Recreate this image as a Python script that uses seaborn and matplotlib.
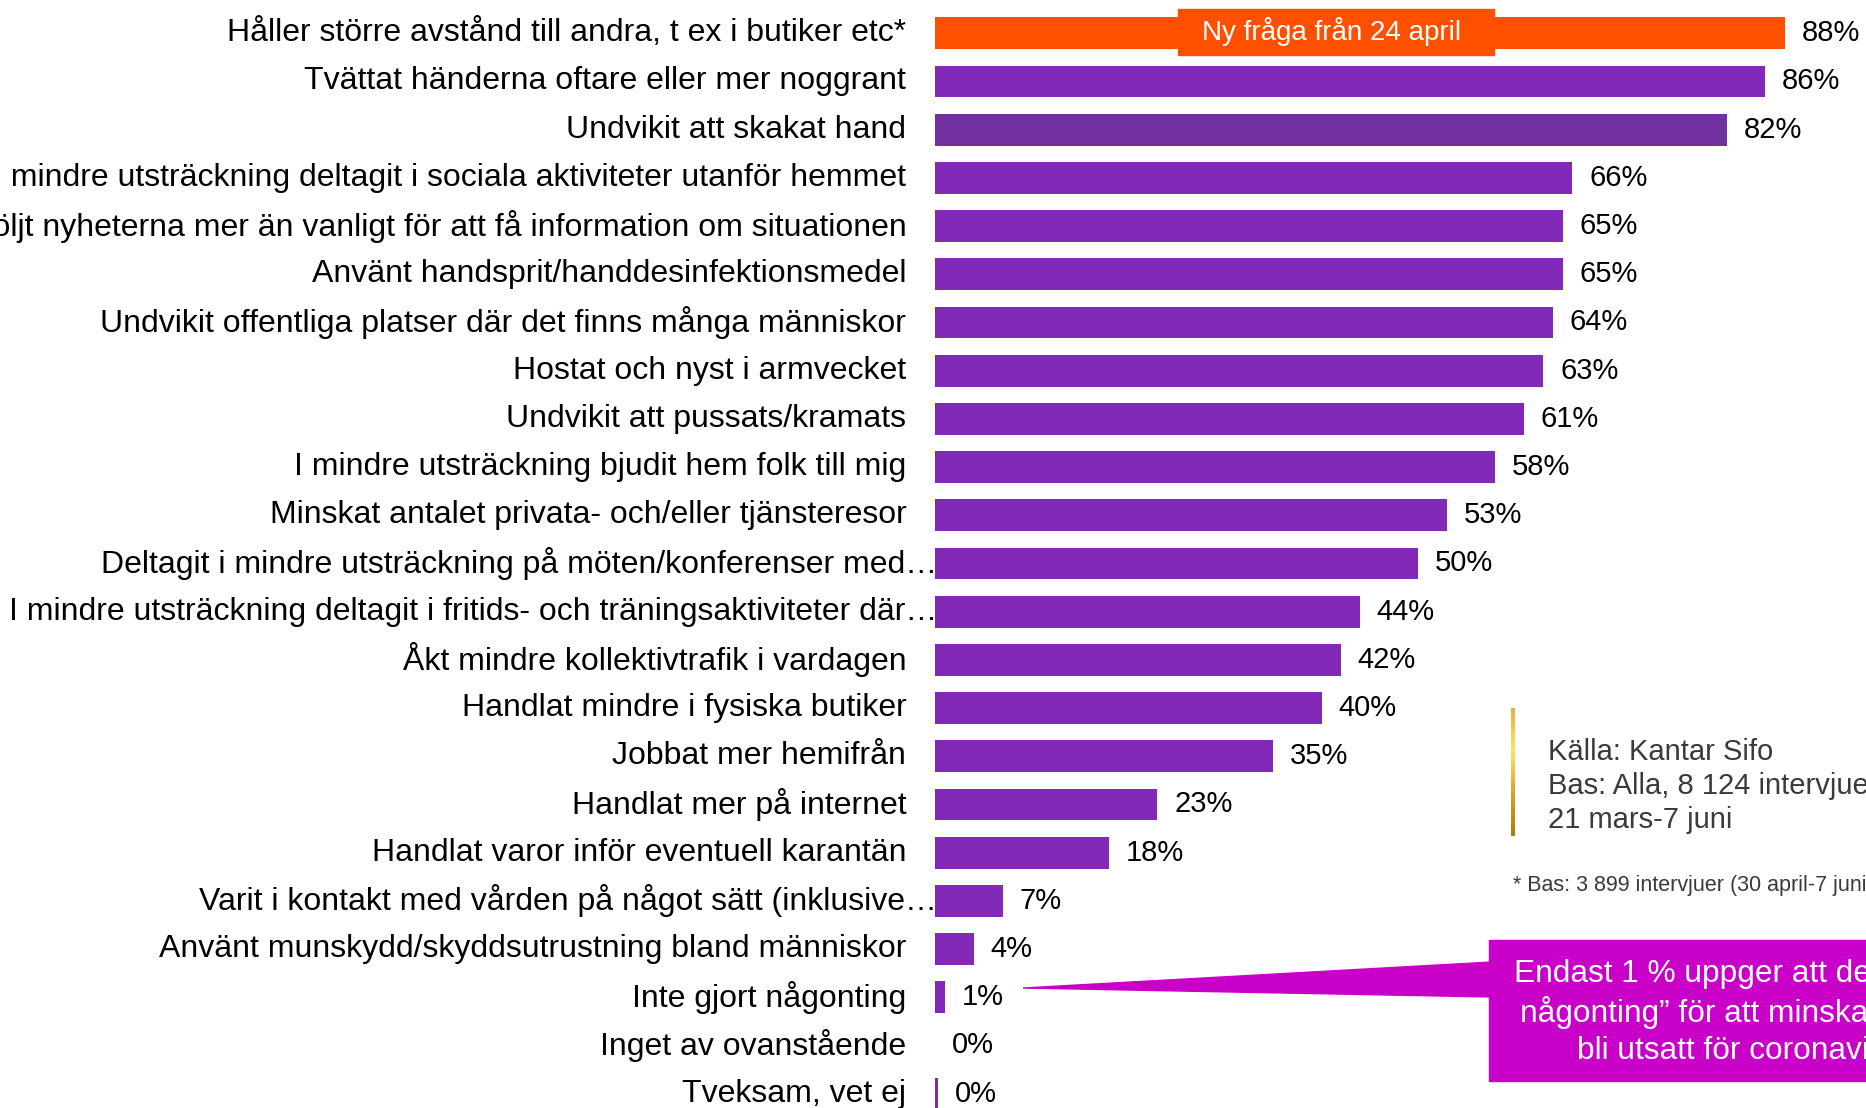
import numpy as np
import pandas as pd
import matplotlib
matplotlib.use("Agg")
import matplotlib.pyplot as plt
import seaborn as sns
from matplotlib.patches import Rectangle, Polygon
from matplotlib.colors import LinearSegmentedColormap

# ---------------- data ----------------
categories = [
    "Håller större avstånd till andra, t ex i butiker etc*",
    "Tvättat händerna oftare eller mer noggrant",
    "Undvikit att skakat hand",
    "I mindre utsträckning deltagit i sociala aktiviteter utanför hemmet",
    "Följt nyheterna mer än vanligt för att få information om situationen",
    "Använt handsprit/handdesinfektionsmedel",
    "Undvikit offentliga platser där det finns många människor",
    "Hostat och nyst i armvecket",
    "Undvikit att pussats/kramats",
    "I mindre utsträckning bjudit hem folk till mig",
    "Minskat antalet privata- och/eller tjänsteresor",
    "Deltagit i mindre utsträckning på möten/konferenser med…",
    "I mindre utsträckning deltagit i fritids- och träningsaktiviteter där…",
    "Åkt mindre kollektivtrafik i vardagen",
    "Handlat mindre i fysiska butiker",
    "Jobbat mer hemifrån",
    "Handlat mer på internet",
    "Handlat varor inför eventuell karantän",
    "Varit i kontakt med vården på något sätt (inklusive…",
    "Använt munskydd/skyddsutrustning bland människor",
    "Inte gjort någonting",
    "Inget av ovanstående",
    "Tveksam, vet ej",
]
values = [88, 86, 82, 66, 65, 65, 64, 63, 61, 58, 53, 50, 44, 42, 40, 35,
          23, 18, 7, 4, 1, 0, 0.25]
value_labels = [f"{round(v)}%" for v in values]
truncated_labels = [
    "Deltagit i mindre utsträckning på möten/konferenser med…",
    "I mindre utsträckning deltagit i fritids- och träningsaktiviteter där…",
    "Varit i kontakt med vården på något sätt (inklusive…",
]
new_question_label = "Ny fråga från 24 april"
source_lines = ["Källa: Kantar Sifo", "Bas: Alla, 8 124 intervjuer", "21 mars-7 juni"]
footnote = "* Bas: 3 899 intervjuer (30 april-7 juni)"
callout_lines = ["Endast 1 % uppger att de ”inte gjort",
                 "någonting” för att minska risken att",
                 "bli utsatt för coronaviruset"]

# ---------------- style ----------------
ORANGE = "#FF5000"
PURPLE = "#8229B8"
PURPLE_DARK = "#7030A0"
MAGENTA = "#C800C8"
bar_colors = [PURPLE] * len(categories)
bar_colors[0] = ORANGE
bar_colors[2] = PURPLE_DARK

sns.set_style("white")
plt.rcParams["font.family"] = ["Liberation Sans", "DejaVu Sans"]

W, H = 1866, 1108
fig = plt.figure(figsize=(W / 100, H / 100), dpi=100)


def fx(px):
    return px / W


def fy(py):
    return 1 - py / H


x0_px = 935.5
px_per_pct = 9.65
top_px, bot_px = 9.2, 1117.8
ax = fig.add_axes([fx(x0_px), fy(bot_px), (W - x0_px) / W, (bot_px - top_px) / H])

df = pd.DataFrame({"kategori": categories, "andel": values})
sns.barplot(data=df, x="andel", y="kategori", hue="kategori", palette=bar_colors,
            legend=False, width=0.66, saturation=1, orient="h", ax=ax,
            linewidth=0)
ax.set_xlim(0, (W - x0_px) / px_per_pct)
ax.set_ylim(len(categories) - 0.5, -0.5)
ax.axis("off")

# category labels
for i, cat in enumerate(categories):
    off = 1 if cat in truncated_labels else -21
    ax.annotate(cat, xy=(0, i), xycoords="data", xytext=(off, 0),
                textcoords="offset points", ha="right", va="center",
                fontsize=23, color="black", annotation_clip=False)

# value labels
for i, (v, lab) in enumerate(zip(values, value_labels)):
    ax.annotate(lab, xy=(v, i), xycoords="data", xytext=(12, 0),
                textcoords="offset points", ha="left", va="center",
                fontsize=21, color="black", annotation_clip=False)

# "Ny fråga" box on first bar
fig.patches.append(Rectangle((fx(1178), fy(55)), (1494 - 1178) / W, (55 - 9.5) / H,
                             transform=fig.transFigure, color=ORANGE, zorder=5))
fig.text(fx(1332), fy(31), new_question_label, color="white", fontsize=20,
         ha="center", va="center", zorder=6)

# gold gradient line
gold = LinearSegmentedColormap.from_list("gold", ["#E2B23A", "#FFE36A", "#D6A32A", "#B07A0A"])
lax = fig.add_axes([fx(1511), fy(836), 4 / W, (836 - 708) / H])
lax.imshow(np.linspace(0, 1, 200).reshape(-1, 1), aspect="auto", cmap=gold)
lax.axis("off")

for k, line in enumerate(source_lines):
    fig.text(fx(1548), fy(752 + 34 * k), line, fontsize=21, color="#3A3A3A",
             ha="left", va="center")
fig.text(fx(1513), fy(885), footnote, fontsize=15.5, color="#3A3A3A",
         ha="left", va="center")

# callout
fig.patches.append(Polygon([(fx(1023), fy(988)), (fx(1492), fy(962)), (fx(1492), fy(997))],
                           closed=True, transform=fig.transFigure, color=MAGENTA, zorder=4))
fig.patches.append(Rectangle((fx(1489), fy(1081)), (W + 200 - 1489) / W, (1081 - 940) / H,
                             transform=fig.transFigure, color=MAGENTA, zorder=4))
for k, (line, xs) in enumerate(zip(callout_lines, [1514, 1520, 1577])):
    fig.text(fx(xs), fy(974 + 38.5 * k), line, fontsize=22.8, color="white",
             ha="left", va="center", zorder=6)

fig.savefig("out.png", dpi=100)
